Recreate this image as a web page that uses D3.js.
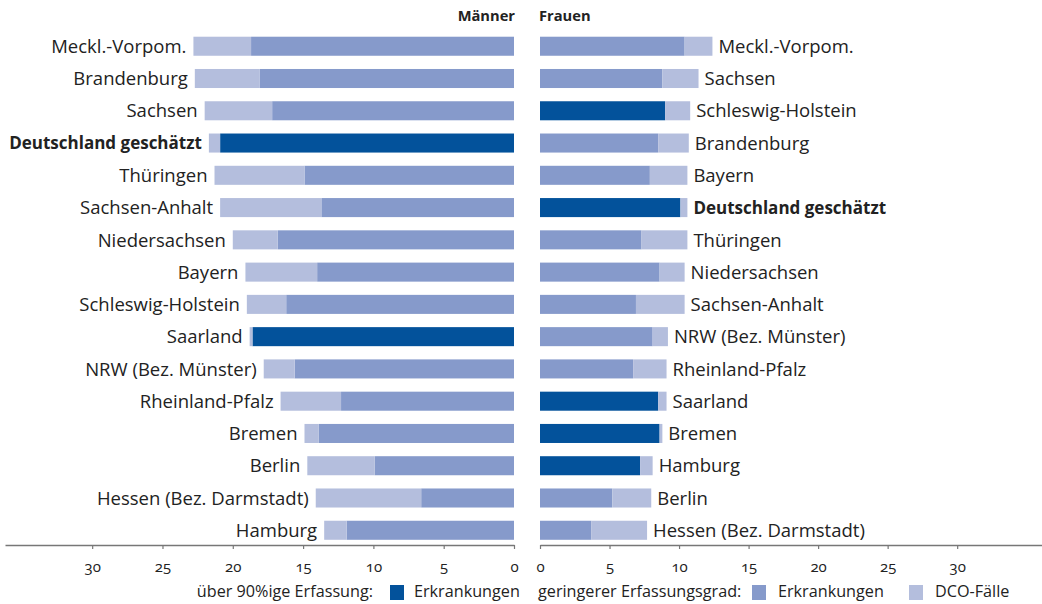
<!DOCTYPE html>
<html>
<head>
<meta charset="utf-8">
<script src="https://d3js.org/d3.v7.min.js"></script>
<style>
  body { margin: 0; background: #fff; }
  svg text { font-family: "Open Sans", "Noto Sans", sans-serif; fill: #222; }
  .num { font-variant-numeric: oldstyle-nums; }
</style>
</head>
<body>
<svg id="chart" width="1042" height="604"></svg>
<script>
// Maenner (left side), top to bottom
let menLabels = ["Meckl.-Vorpom.", "Brandenburg", "Sachsen", "Deutschland geschätzt", "Thüringen",
  "Sachsen-Anhalt", "Niedersachsen", "Bayern", "Schleswig-Holstein", "Saarland",
  "NRW (Bez. Münster)", "Rheinland-Pfalz", "Bremen", "Berlin", "Hessen (Bez. Darmstadt)", "Hamburg"];
let menErkr = [18.7, 18.1, 17.2, 20.9, 14.9, 13.7, 16.8, 14.0, 16.2, 18.6, 15.6, 12.3, 13.9, 9.9, 6.6, 11.9];
let menDco  = [4.1, 4.6, 4.8, 0.8, 6.4, 7.2, 3.2, 5.1, 2.8, 0.2, 2.2, 4.3, 1.0, 4.8, 7.5, 1.6];
let menHigh = ["Deutschland geschätzt", "Saarland"];

// Frauen (right side)
let womenLabels = ["Meckl.-Vorpom.", "Sachsen", "Schleswig-Holstein", "Brandenburg", "Bayern",
  "Deutschland geschätzt", "Thüringen", "Niedersachsen", "Sachsen-Anhalt", "NRW (Bez. Münster)",
  "Rheinland-Pfalz", "Saarland", "Bremen", "Hamburg", "Berlin", "Hessen (Bez. Darmstadt)"];
let womenErkr = [10.4, 8.8, 9.0, 8.5, 7.9, 10.1, 7.3, 8.6, 6.9, 8.1, 6.7, 8.5, 8.6, 7.2, 5.2, 3.7];
let womenDco  = [2.0, 2.6, 1.8, 2.2, 2.7, 0.5, 3.3, 1.8, 3.5, 1.1, 2.4, 0.6, 0.2, 0.9, 2.8, 4.0];
let womenHigh = ["Schleswig-Holstein", "Deutschland geschätzt", "Saarland", "Bremen", "Hamburg"];

let tickValues = [0, 5, 10, 15, 20, 25, 30];
let boldLabel = "Deutschland geschätzt";

let colDark = "#03529b", colMid = "#869acb", colLight = "#b4bedd";

let svg = d3.select("#chart");

// shared row scale
let y = d3.scaleBand().domain(d3.range(16)).range([30.1, 546.4]).paddingInner(0.41).paddingOuter(0.205);

let xL = d3.scaleLinear().domain([0, 36.2]).range([514, 5]);
let xR = d3.scaleLinear().domain([0, 36.1]).range([540, 1042]);

function panel(labels, erkr, dco, high, x, side) {
  let rows = labels.map((d, i) => ({ name: d, erkr: erkr[i], dco: dco[i], i: i, high: high.includes(d) }));
  let g = svg.append("g");

  // Erkrankungen segment
  g.selectAll(".erkr").data(rows).enter().append("rect")
    .attr("class", "erkr")
    .attr("x", d => Math.min(x(0), x(d.erkr)))
    .attr("width", d => Math.abs(x(d.erkr) - x(0)))
    .attr("y", d => y(d.i))
    .attr("height", y.bandwidth())
    .attr("fill", d => d.high ? colDark : colMid);

  // DCO segment
  g.selectAll(".dco").data(rows).enter().append("rect")
    .attr("class", "dco")
    .attr("x", d => Math.min(x(d.erkr), x(d.erkr + d.dco)))
    .attr("width", d => Math.abs(x(d.erkr + d.dco) - x(d.erkr)))
    .attr("y", d => y(d.i))
    .attr("height", y.bandwidth())
    .attr("fill", colLight);

  g.selectAll(".lbl").data(rows).enter().append("text")
    .attr("class", "lbl")
    .attr("x", d => side == "left" ? x(d.erkr + d.dco) - 7 : x(d.erkr + d.dco) + 6)
    .attr("y", d => y(d.i) + y.bandwidth() / 2)
    .attr("dy", "0.36em")
    .attr("text-anchor", side == "left" ? "end" : "start")
    .style("font-size", d => d.name == boldLabel ? "17px" : "18.5px")
    .style("font-weight", d => d.name == boldLabel ? "bold" : "normal")
    .text(d => d.name);

  let axis = d3.axisBottom(x).tickValues(tickValues).tickSize(4).tickSizeOuter(0).tickPadding(12);
  let ax = g.append("g").attr("transform", "translate(0,545)").call(axis);
  ax.select(".domain").attr("stroke", "#777").attr("stroke-width", 1.5);
  ax.selectAll(".tick line").attr("stroke", "#777").attr("stroke-width", 1.2);
  ax.selectAll(".tick text").attr("class", "num").style("font-size", "15px")
    .style("font-family", "'Open Sans', sans-serif").attr("fill", "#222");
}

panel(menLabels, menErkr, menDco, menHigh, xL, "left");
panel(womenLabels, womenErkr, womenDco, womenHigh, xR, "right");

// headers
svg.append("text").attr("x", 515).attr("y", 21).attr("text-anchor", "end")
  .style("font-size", "14.7px").style("font-weight", "bold").text("Männer");
svg.append("text").attr("x", 539).attr("y", 21)
  .style("font-size", "14.7px").style("font-weight", "bold").text("Frauen");

// legend
let legend = svg.append("g").style("font-size", "16.2px");
legend.append("text").attr("x", 373).attr("y", 597).attr("text-anchor", "end").text("über 90%ige Erfassung:");
legend.append("rect").attr("x", 390).attr("y", 585).attr("width", 14).attr("height", 15).attr("fill", colDark);
legend.append("text").attr("x", 414).attr("y", 597).text("Erkrankungen");
legend.append("text").attr("x", 538).attr("y", 597).text("geringerer Erfassungsgrad:");
legend.append("rect").attr("x", 752).attr("y", 585).attr("width", 14).attr("height", 15).attr("fill", colMid);
legend.append("text").attr("x", 778).attr("y", 597).text("Erkrankungen");
legend.append("rect").attr("x", 909).attr("y", 585).attr("width", 14).attr("height", 15).attr("fill", colLight);
legend.append("text").attr("x", 935).attr("y", 597).text("DCO-Fälle");
</script>
</body>
</html>
